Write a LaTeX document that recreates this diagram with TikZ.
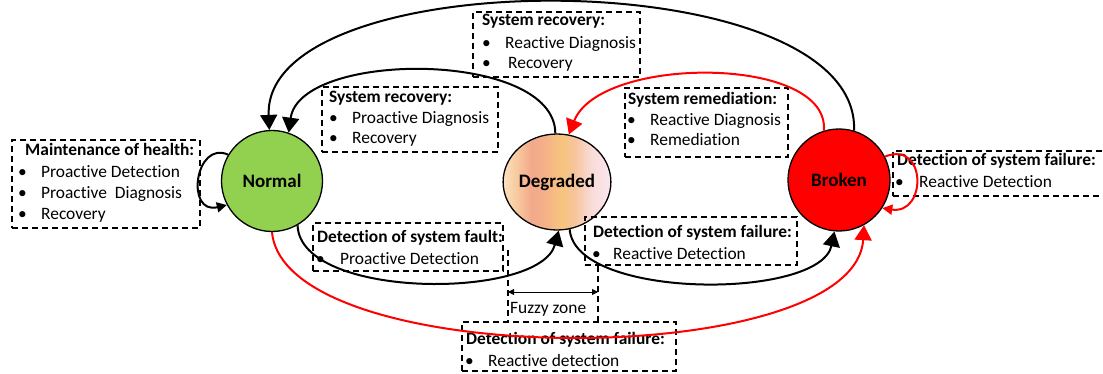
\documentclass[tikz,border=0pt]{standalone}
\usepackage{fontspec}
\setmainfont{Carlito}[Ligatures={NoCommon}]
\usetikzlibrary{arrows.meta,shapes.geometric}

\definecolor{normalgreen}{HTML}{92D050}
\definecolor{brokenred}{HTML}{FF0000}
\definecolor{dgA}{HTML}{FBE1C0}
\definecolor{dgB}{HTML}{F8CBA0}
\definecolor{dgC}{HTML}{F2A98C}
\definecolor{dgD}{HTML}{F4B088}
\definecolor{dgE}{HTML}{F7C47E}
\definecolor{dgF}{HTML}{F6C49A}
\definecolor{dgG}{HTML}{F9DCD8}
\definecolor{dgH}{HTML}{FBE6F2}

% vertical colour bands for the degraded state
\pgfdeclarehorizontalshading{degradedbands}{100bp}{%
  color(0bp)=(dgA); color(25bp)=(dgA); color(31bp)=(dgB); color(38bp)=(dgC);
  color(44bp)=(dgD); color(52bp)=(dgE); color(58bp)=(dgF); color(66bp)=(dgG);
  color(75bp)=(dgH); color(100bp)=(dgH)}

\newcommand\boxfs{\fontsize{17.4}{21}\selectfont}
\newcommand\statefs{\fontsize{19}{23}\selectfont}

\tikzset{
  state/.style={draw=black, line width=1.3pt, inner sep=0pt, font=\statefs\bfseries},
  dbox/.style={draw=black, line width=1.4pt, dash pattern=on 6pt off 4pt, inner sep=0pt},
  ttl/.style={anchor=base west, inner sep=0pt, font=\boxfs\bfseries},
  itm/.style={anchor=base west, inner sep=0pt, font=\boxfs},
  blackarc/.style={draw=black, line width=2pt, -{Triangle[length=15pt,width=17pt]}},
  redarc/.style={draw=brokenred, line width=2pt, -{Triangle[length=15pt,width=17pt]}},
  blackloop/.style={draw=black, line width=2pt, -{Triangle[length=10pt,width=10pt]}},
  redloop/.style={draw=brokenred, line width=2pt, -{Triangle[length=10pt,width=10pt]}},
  fuzzy/.style={draw=black, line width=1.4pt, dash pattern=on 6pt off 4pt},
  fuzzyarrow/.style={draw=black, line width=0.8pt, {Triangle[length=6pt,width=6pt]}-{Triangle[length=6pt,width=6pt]}}
}

\begin{document}
\begin{tikzpicture}[x=1pt,y=-1pt]
\useasboundingbox (0,0) rectangle (1103,374);

% states
\node[state, circle, fill=normalgreen, minimum size=101pt] (normal) at (272,181) {Normal};
\node[state, ellipse, shading=degradedbands, minimum width=102pt, minimum height=96pt] (degraded) at (557,182) {Degraded};
\node[state, circle, fill=brokenred, minimum size=102pt] (broken) at (839,180) {Broken};

% dashed annotation boxes
\node[dbox, minimum width=188pt, minimum height=88pt] (mhbox) at (106,184) {};
\node[dbox, minimum width=167pt, minimum height=65pt] (srtop) at (556.5,44.5) {};
\node[dbox, minimum width=176pt, minimum height=65pt] (srpro) at (410,119.5) {};
\node[dbox, minimum width=163pt, minimum height=69pt] (srem) at (706.5,122.5) {};
\node[dbox, minimum width=217pt, minimum height=45pt] (dfright) at (1001.5,173.5) {};
\node[dbox, minimum width=190pt, minimum height=48pt] (dfault) at (408,247) {};
\node[dbox, minimum width=212pt, minimum height=48pt] (dfmid) at (691,241) {};
\node[dbox, minimum width=214pt, minimum height=49pt] (dfbot) at (569,346.5) {};

% box texts
\node[ttl] (mht) at (25,156) {Maintenance of health:};
\node[itm] (mhb1) at (18,177.5) {\textbullet};
\node[itm] (mhi1) at (41,177.5) {Proactive Detection};
\node[itm] (mhb2) at (18,198.5) {\textbullet};
\node[itm] (mhi2) at (41,198.5) {Proactive\ \ Diagnosis};
\node[itm] (mhb3) at (18,219.5) {\textbullet};
\node[itm] (mhi3) at (41,219.5) {Recovery};

\node[ttl] (srtt) at (482,26) {System recovery:};
\node[itm] (srtb1) at (482,49) {\textbullet};
\node[itm] (srti1) at (505,49) {Reactive Diagnosis};
\node[itm] (srtb2) at (482,69) {\textbullet};
\node[itm] (srti2) at (508,69) {Recovery};

\node[ttl] (srpt) at (329,103) {System recovery:};
\node[itm] (srpb1) at (329,124) {\textbullet};
\node[itm] (srpi1) at (352,124) {Proactive Diagnosis};
\node[itm] (srpb2) at (329,144) {\textbullet};
\node[itm] (srpi2) at (352,144) {Recovery};

\node[ttl] (sremt) at (628,105) {System remediation:};
\node[itm] (sremb1) at (627,126) {\textbullet};
\node[itm] (sremi1) at (650,126) {Reactive Diagnosis};
\node[itm] (sremb2) at (627,146) {\textbullet};
\node[itm] (sremi2) at (650,146) {Remediation};

\node[ttl] (dfrt) at (897,166) {Detection of system failure:};
\node[itm] (dfrb) at (895,188) {\textbullet};
\node[itm] (dfri) at (919,188) {Reactive Detection};

\node[ttl] (dftt) at (317,243) {Detection of system fault:};
\node[itm] (dftb) at (316,264) {\textbullet};
\node[itm] (dfti) at (340,264) {Proactive Detection};

\node[ttl] (dfmt) at (593,238) {Detection of system failure:};
\node[itm] (dfmb) at (592,259) {\textbullet};
\node[itm] (dfmi) at (613,259) {Reactive Detection};

\node[ttl] (dfbt) at (466,344) {Detection of system failure:};
\node[itm] (dfbb) at (465,366) {\textbullet};
\node[itm] (dfbi) at (488,366) {Reactive detection};

% fuzzy zone between the degraded transitions
\coordinate (fzAtop) at (508,250);
\coordinate (fzAbot) at (508,322);
\coordinate (fzBtop) at (598,266);
\coordinate (fzBbot) at (598,322);
\coordinate (fzL) at (508,292);
\coordinate (fzR) at (598,292);
\draw[fuzzy] (fzAtop) -- (fzAbot);
\draw[fuzzy] (fzBtop) -- (fzBbot);
\draw[fuzzyarrow] (fzL) -- (fzR);
\node[itm] (fzt) at (510,313) {Fuzzy zone};

% transitions
\draw[blackarc] (broken.73) .. controls (860,-40) and (262,-40) .. (normal.93);
\draw[blackarc] (degraded.92) .. controls (555,50) and (300,50) .. (normal.71);
\draw[redarc] (broken.107) .. controls (830,55) and (600,55) .. (degraded.76);
\draw[blackarc] (normal.-60) .. controls (300,300) and (540,300) .. (degraded.-88);
\draw[blackarc] (degraded.-75) .. controls (575,300) and (820,300) .. (broken.-95);
\draw[redarc] (normal.-90) .. controls (285,372) and (855,372) .. (broken.-61);
\draw[blackloop] (normal.149) .. controls (195,140) and (185,215) .. (normal.208);
\draw[redloop] (broken.27) .. controls (927,140) and (927,215) .. (broken.-33);
\end{tikzpicture}
\end{document}
